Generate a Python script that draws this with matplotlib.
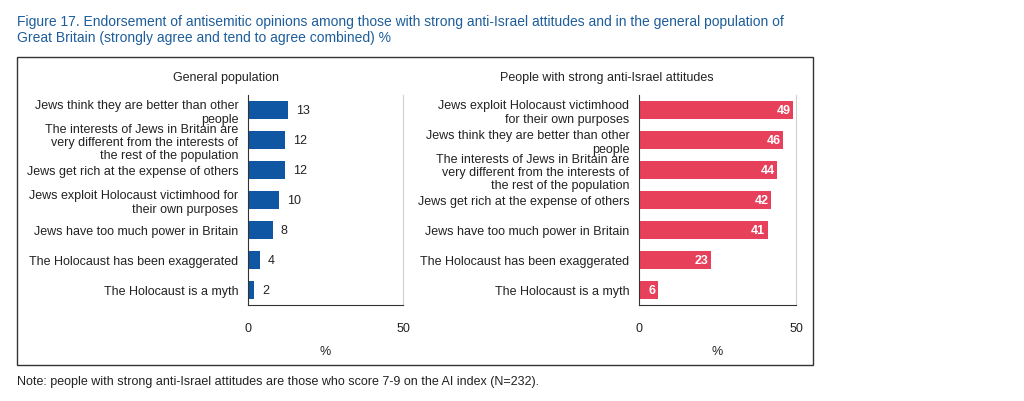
import matplotlib
matplotlib.use("Agg")
import matplotlib.pyplot as plt
from matplotlib.patches import Rectangle

# data
gen_labels = [
    "Jews think they are better than other\npeople",
    "The interests of Jews in Britain are\nvery different from the interests of\nthe rest of the population",
    "Jews get rich at the expense of others",
    "Jews exploit Holocaust victimhood for\ntheir own purposes",
    "Jews have too much power in Britain",
    "The Holocaust has been exaggerated",
    "The Holocaust is a myth",
]
gen_values = [13, 12, 12, 10, 8, 4, 2]

anti_labels = [
    "Jews exploit Holocaust victimhood\nfor their own purposes",
    "Jews think they are better than other\npeople",
    "The interests of Jews in Britain are\nvery different from the interests of\nthe rest of the population",
    "Jews get rich at the expense of others",
    "Jews have too much power in Britain",
    "The Holocaust has been exaggerated",
    "The Holocaust is a myth",
]
anti_values = [49, 46, 44, 42, 41, 23, 6]

x_ticks = [0, 50]

plt.rcParams['font.family'] = ['Liberation Sans', 'DejaVu Sans']

blue = "#0f56a3"
red = "#e7405a"
txt = "#222222"

W, H = 1024, 402
fig = plt.figure(figsize=(W / 100, H / 100), dpi=100)

def px_axes(x0, x1, y0, y1):
    return fig.add_axes([x0 / W, 1 - y1 / H, (x1 - x0) / W, (y1 - y0) / H])

ax1 = px_axes(248, 403, 96, 306)
ax2 = px_axes(639, 796, 96, 306)

for ax, labels, values, color, inside in [
    (ax1, gen_labels, gen_values, blue, False),
    (ax2, anti_labels, anti_values, red, True),
]:
    y = list(range(len(values)))
    ax.barh(y, values, height=0.58, color=color)
    ax.set_ylim(len(values) - 0.5, -0.5)
    ax.set_xlim(0, 50)
    ax.set_yticks(y)
    ax.set_yticklabels(labels, fontsize=9, color=txt, linespacing=1.12)
    ax.set_xticks(x_ticks)
    ax.set_xticklabels([str(t) for t in x_ticks], fontsize=9, color=txt)
    ax.tick_params(axis='y', length=0, pad=7)
    ax.tick_params(axis='x', length=0, pad=12)
    ax.spines['top'].set_visible(False)
    ax.spines['right'].set_color("#d0d0d0")
    ax.spines['right'].set_linewidth(0.8)
    ax.spines['left'].set_color("#333333")
    ax.spines['bottom'].set_color("#333333")
    ax.set_xlabel("%", fontsize=9, color=txt, labelpad=8)
    for yi, v in zip(y, values):
        if inside:
            ax.text(v - 0.8, yi, str(v), ha='right', va='center', fontsize=9,
                    color='white', fontweight='bold')
        else:
            ax.text(v + 2.5, yi, str(v), ha='left', va='center', fontsize=9, color=txt)

fig.text(226 / W, 1 - 78 / H, "General population", ha='center', va='center',
         fontsize=9, color=txt)
fig.text(607 / W, 1 - 78 / H, "People with strong anti-Israel attitudes", ha='center',
         va='center', fontsize=9, color=txt)

fig.text(17 / W, 1 - 30 / H,
         "Figure 17. Endorsement of antisemitic opinions among those with strong anti-Israel attitudes and in the general population of\n"
         "Great Britain (strongly agree and tend to agree combined) %",
         ha='left', va='center', fontsize=10, color="#1d5d9b", linespacing=1.2)

fig.text(17 / W, 1 - 382 / H,
         "Note: people with strong anti-Israel attitudes are those who score 7-9 on the AI index (N=232).",
         ha='left', va='center', fontsize=9, color=txt)

fig.patches.append(Rectangle((17 / W, 1 - 366 / H), (813 - 17) / W, (366 - 58) / H,
                             transform=fig.transFigure, fill=False,
                             edgecolor="#333333", linewidth=1.0))

fig.savefig("out.png", dpi=100)
